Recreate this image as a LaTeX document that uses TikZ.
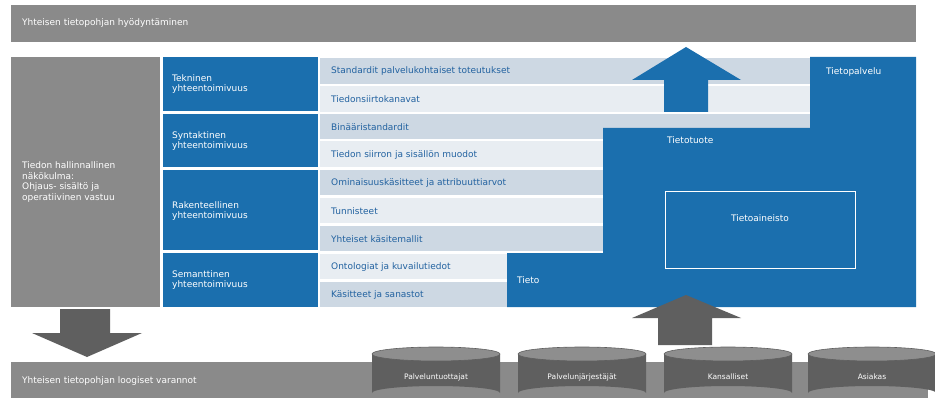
\documentclass[tikz,border=0pt]{standalone}
\usepackage{fontspec}
\setmainfont{DejaVu Sans}
\definecolor{bl}{HTML}{1B6FAE}
\definecolor{gr}{HTML}{8A8A8A}
\definecolor{dg}{HTML}{5F5F5F}
\definecolor{lg}{HTML}{8E8E8E}
\definecolor{ra}{HTML}{CDD8E3}
\definecolor{rb}{HTML}{E8EDF2}
\definecolor{tx}{HTML}{2262A0}
\begin{document}
\begin{tikzpicture}[x=1pt,y=-1pt,
  wt/.style={text=white,font=\fontsize{9}{10.5}\selectfont,anchor=west,align=left,inner sep=0pt},
  rt/.style={text=tx,font=\fontsize{9}{10.5}\selectfont,anchor=west,inner sep=0pt},
  cyl/.style={text=white,font=\fontsize{7.5}{9}\selectfont}]
\useasboundingbox (0,0) rectangle (935,409);
% top bar
\fill[gr] (11,5) rectangle (916,42);
\node[wt] (top) at (22,23.5) {Yhteisen tietopohjan hyödyntäminen};
% left panel
\fill[gr] (11,57) rectangle (160,307);
\node[wt] (left) at (22,182) {Tiedon hallinnallinen\\näkökulma:\\Ohjaus- sisältö ja\\operatiivinen vastuu};
% blue column
\foreach \a/\b in {57/111,114/167,170/250,253/307}{\fill[bl] (163,\a) rectangle (318,\b);}
\node[wt] (c1) at (172,84) {Tekninen\\yhteentoimivuus};
\node[wt] (c2) at (172,141) {Syntaktinen\\yhteentoimivuus};
\node[wt] (c3) at (172,211) {Rakenteellinen\\yhteentoimivuus};
\node[wt] (c4) at (172,280) {Semanttinen\\yhteentoimivuus};
% rows
\fill[ra] (320,58) rectangle (810,84);
\fill[rb] (320,86) rectangle (810,112);
\fill[ra] (320,114) rectangle (810,139);
\fill[rb] (320,141) rectangle (603,167);
\fill[ra] (320,170) rectangle (603,195);
\fill[rb] (320,198) rectangle (603,223);
\fill[ra] (320,226) rectangle (603,251);
\fill[rb] (320,254) rectangle (507,279);
\fill[ra] (320,282) rectangle (507,307);
% blue staircase
\fill[bl] (810,57) -- (916,57) -- (916,307) -- (507,307) -- (507,253) -- (603,253) -- (603,128) -- (810,128) -- cycle;
\draw[white,thick] (665,191) rectangle (855,268);
\node[rt] (r1) at (331,71) {Standardit palvelukohtaiset toteutukset};
\node[rt] (r2) at (331,99) {Tiedonsiirtokanavat};
\node[rt] (r3) at (331,127) {Binääristandardit};
\node[rt] (r4) at (331,155) {Tiedon siirron ja sisällön muodot};
\node[rt] (r5) at (331,183) {Ominaisuuskäsitteet ja attribuuttiarvot};
\node[rt] (r6) at (331,211) {Tunnisteet};
\node[rt] (r7) at (331,239) {Yhteiset käsitemallit};
\node[rt] (r8) at (331,267) {Ontologiat ja kuvailutiedot};
\node[rt] (r9) at (331,295) {Käsitteet ja sanastot};
\node[wt] (tp) at (826,72) {Tietopalvelu};
\node[wt] (tt) at (667,140) {Tietotuote};
\node[wt,anchor=center] (ta) at (760,218) {Tietoaineisto};
\node[wt] (ti) at (517,280) {Tieto};
% arrows
\fill[bl] (664,112) -- (664,80) -- (632,80) -- (686,47) -- (741,80) -- (708,80) -- (708,112) -- cycle;
\fill[dg] (658,345) -- (658,318) -- (632,318) -- (686,295) -- (741,318) -- (712,318) -- (712,345) -- cycle;
\fill[dg] (60,309) -- (110,309) -- (110,333) -- (142,333) -- (87,357) -- (32,333) -- (60,333) -- cycle;
% bottom bar
\fill[gr] (11,362) rectangle (928,398);
\node[wt] (bot) at (22,381) {Yhteisen tietopohjan loogiset varannot};
% cylinders
\foreach \x/\t/\n in {436/Palveluntuottajat/k1,582/Palvelunjärjestäjät/k2,728/Kansalliset/k3,872/Asiakas/k4}{
  \fill[dg] (\x-64,354) -- (\x-64,393) arc[start angle=180,end angle=360,x radius=64,y radius=7] -- (\x+64,354) -- cycle;
  \fill[lg] (\x,354) ellipse[x radius=64,y radius=7];
  \draw[dg,line width=0.6pt] (\x,354) ellipse[x radius=64,y radius=7];
  \node[cyl] (\n) at (\x,377) {\t};
}
\end{tikzpicture}
\end{document}
